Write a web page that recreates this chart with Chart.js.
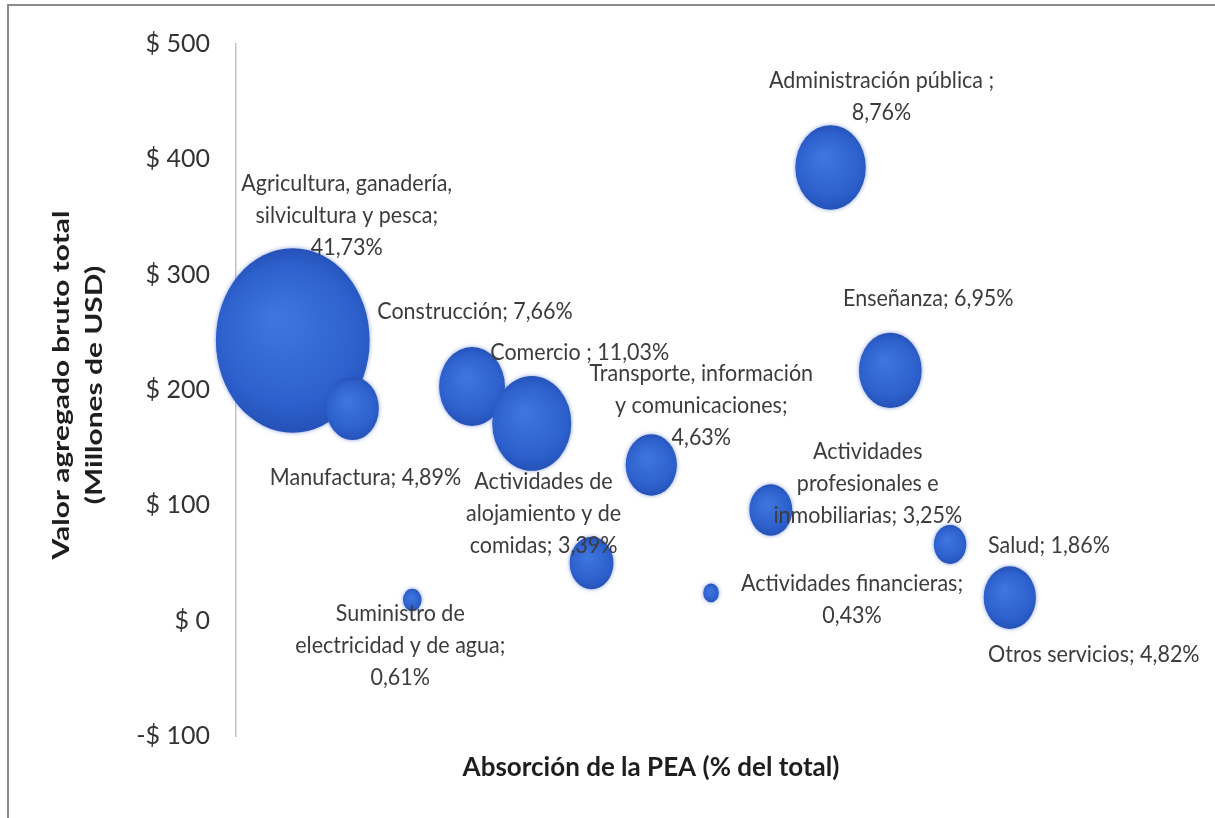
<!DOCTYPE html>
<html lang="es">
<head>
<meta charset="utf-8">
<title>Valor agregado vs absorción de la PEA</title>
<script src="https://cdn.jsdelivr.net/npm/chart.js@4.4.1/dist/chart.umd.min.js"></script>
<style>
  html, body { margin: 0; padding: 0; background: #fff; }
  #wrap { position: relative; width: 1215px; height: 818px; }
  #frame { position: absolute; top: 4px; left: 7px; right: 0; bottom: 0;
           border-top: 2px solid #8c8c8c; border-left: 2px solid #8c8c8c; pointer-events: none; }
  canvas { position: absolute; top: 0; left: 0; }
</style>
</head>
<body>
<div id="wrap">
  <canvas id="chart" width="1215" height="818"></canvas>
  <div id="frame"></div>
</div>
<script>
// sectors, in the order of the sheet
const sectors = [
  'Agricultura, ganadería, silvicultura y pesca', 'Manufactura', 'Suministro de electricidad y de agua',
  'Construcción', 'Comercio', 'Actividades de alojamiento y de comidas',
  'Transporte, información y comunicaciones', 'Actividades financieras',
  'Actividades profesionales e inmobiliarias', 'Administración pública',
  'Enseñanza', 'Salud', 'Otros servicios'
];
// x position (sheet row), value added (millions USD), share of PEA (%)
const xPos = [1, 2, 3, 4, 5, 6, 7, 8, 9, 10, 11, 12, 13];
const valorAgregado = [243, 184, 18, 203, 171, 50, 135, 24, 96, 393, 217, 66, 20];
const peaShare = [41.73, 4.89, 0.61, 7.66, 11.03, 3.39, 4.63, 0.43, 3.25, 8.76, 6.95, 1.86, 4.82];

// data label text, as printed on the chart
const labelLines = [
  ['Agricultura, ganadería,', 'silvicultura y pesca;', '41,73%'],
  ['Manufactura; 4,89%'],
  ['Suministro de', 'electricidad y de agua;', '0,61%'],
  ['Construcción; 7,66%'],
  ['Comercio ; 11,03%'],
  ['Actividades de', 'alojamiento y de', 'comidas; 3,39%'],
  ['Transporte, información', 'y comunicaciones;', '4,63%'],
  ['Actividades financieras;', '0,43%'],
  ['Actividades', 'profesionales e', 'inmobiliarias; 3,25%'],
  ['Administración pública ;', '8,76%'],
  ['Enseñanza; 6,95%'],
  ['Salud; 1,86%'],
  ['Otros servicios; 4,82%']
];
const yTicks = [-100, 0, 100, 200, 300, 400, 500];
const yTitle = ['Valor agregado bruto total', '(Millones de USD)'];
const xTitle = 'Absorción de la PEA (% del total)';

// label placement relative to the bubble centre (px), first line centre
const labelOffset = [
  [54, -157], [13, 69], [-12, 13], [3, -75], [48, -71], [-48, -82], [50, -92],
  [141, -10], [97, -59], [51, -87], [38, -72], [99, 1], [84, 57]
];

const STRETCH = 1.2; // the original picture is taller than wide

const bubbleLook = {
  id: 'bubbleLook',
  beforeDatasetDraw(chart, args) {
    const ctx = chart.ctx;
    args.meta.data.forEach(el => {
      const rx = el.options.radius;
      const ry = rx * STRETCH;
      const g = ctx.createRadialGradient(el.x - rx * 0.2, el.y - ry * 0.25, rx * 0.05, el.x, el.y, ry);
      g.addColorStop(0, '#3f76de');
      g.addColorStop(0.75, '#2d60cc');
      g.addColorStop(1, '#2451b7');
      ctx.save();
      ctx.shadowColor = 'rgba(40, 80, 190, 0.55)';
      ctx.shadowBlur = 4;
      ctx.beginPath();
      ctx.ellipse(el.x, el.y, rx, ry, 0, 0, Math.PI * 2);
      ctx.fillStyle = g;
      ctx.fill();
      ctx.restore();
    });
    return false;
  }
};

const dataLabels = {
  id: 'dataLabels',
  afterDatasetsDraw(chart) {
    const ctx = chart.ctx;
    const pts = chart.getDatasetMeta(0).data;
    ctx.save();
    ctx.font = '21.5px Lato';
    ctx.fillStyle = '#3c3c3c';
    ctx.textAlign = 'center';
    ctx.textBaseline = 'middle';
    pts.forEach((el, i) => {
      const [dx, dy] = labelOffset[i];
      labelLines[i].forEach((line, k) => {
        ctx.save();
        ctx.translate(el.x + dx, el.y + dy + k * 32);
        ctx.scale(1, 1.1);
        ctx.fillText(line, 0, 0);
        ctx.restore();
      });
    });
    ctx.restore();
  }
};

// axis titles, placed like the original (stretched along their length)
const axisTitles = {
  id: 'axisTitles',
  afterDraw(chart) {
    const ctx = chart.ctx;
    const area = chart.chartArea;
    ctx.save();
    ctx.fillStyle = '#1e1e1e';
    ctx.textAlign = 'center';
    ctx.textBaseline = 'middle';
    ctx.font = 'bold 23px Lato';
    yTitle.forEach((line, k) => {
      ctx.save();
      ctx.translate(62 + k * 33, 385);
      ctx.rotate(-Math.PI / 2);
      ctx.scale(1.3, 1);
      ctx.fillText(line, 0, 0);
      ctx.restore();
    });
    ctx.font = 'bold 26px Lato';
    ctx.fillText(xTitle, 651, area.bottom + 32);
    ctx.restore();
  }
};

Chart.defaults.font.family = 'Lato';

new Chart(document.getElementById('chart'), {
  type: 'bubble',
  data: {
    datasets: [{
      label: 'Sectores',
      data: xPos.map((x, i) => ({ x: x, y: valorAgregado[i], r: 11.9 * Math.sqrt(peaShare[i]) })),
      backgroundColor: '#2d60cc'
    }]
  },
  options: {
    responsive: false,
    animation: false,
    layout: { autoPadding: false, padding: { left: 8, top: 44, right: 8, bottom: 82 } },
    plugins: { legend: { display: false }, tooltip: { enabled: false } },
    scales: {
      x: {
        min: 0.05,
        max: 16.3,
        ticks: { display: false },
        grid: { display: false, drawTicks: false },
        border: { display: false }
      },
      y: {
        min: -100,
        max: 500,
        afterBuildTicks: s => { s.ticks = yTicks.map(v => ({ value: v })); },
        afterFit: s => { s.width = 228; },
        ticks: {
          padding: 26,
          color: '#333',
          font: { size: 25 },
          callback: v => (v < 0 ? '-$ ' : '$ ') + Math.abs(v)
        },
        grid: { display: false, drawTicks: false },
        border: { display: true, color: '#c4c4c4', width: 1.5 }
      }
    }
  },
  plugins: [bubbleLook, dataLabels, axisTitles]
});
</script>
</body>
</html>
